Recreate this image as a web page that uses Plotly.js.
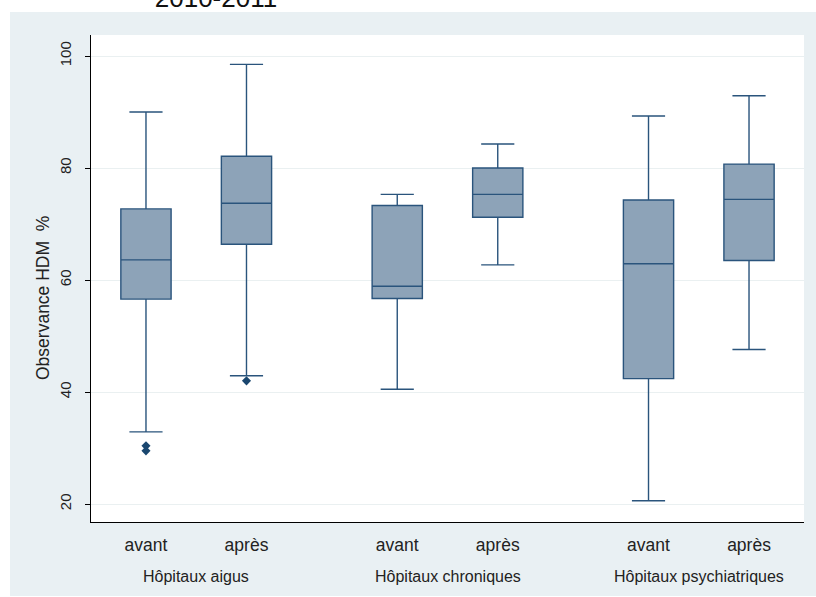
<!DOCTYPE html>
<html>
<head>
<meta charset="utf-8">
<script src="https://cdn.plot.ly/plotly-3.0.1.min.js"></script>
<style>html,body{margin:0;padding:0;background:#fff;}#chart{width:816px;height:597px;}</style>
</head>
<body>
<div id="chart"></div>
<script>
// ---- Data ----
var groups = ['Hôpitaux aigus', 'Hôpitaux chroniques', 'Hôpitaux psychiatriques'];
var periods = ['avant', 'après'];
// order: aigus avant, aigus après, chroniques avant, chroniques après, psy avant, psy après
var lowerWhisker = [32.9, 42.9, 40.5, 62.7, 20.6, 47.6];
var q1Values     = [56.6, 66.4, 56.7, 71.2, 42.4, 63.5];
var medianValues = [63.6, 73.7, 58.9, 75.3, 62.9, 74.4];
var q3Values     = [72.7, 82.1, 73.3, 80.0, 74.3, 80.7];
var upperWhisker = [90.0, 98.5, 75.3, 84.3, 89.3, 92.9];
// outliers: [box index, value]
var outlierBox   = [0, 0, 1];
var outlierValue = [30.4, 29.5, 42.0];
var yTicks = [20, 40, 60, 80, 100];
var yTitle = 'Observance HDM  %';
var chartTitle = '2010-2011';

// ---- Positions (groups separated by a gap) ----
var gap = 2.5;
var xPos = [], xText = [];
groups.forEach(function (g, gi) {
  periods.forEach(function (p, pi) {
    xPos.push(gi * gap + pi);
    xText.push(p);
  });
});
var groupCenters = groups.map(function (g, gi) { return gi * gap + 0.5; });

var navy = '#1a476f';
var boxTrace = {
  type: 'box',
  x: xPos,
  q1: q1Values,
  median: medianValues,
  q3: q3Values,
  lowerfence: lowerWhisker,
  upperfence: upperWhisker,
  width: 0.5,
  whiskerwidth: 0.66,
  fillcolor: '#8da3b8',
  line: {color: '#2a547c', width: 1.4},
  boxpoints: false,
  showlegend: false,
  hoverinfo: 'skip'
};
var outTrace = {
  type: 'scatter',
  mode: 'markers',
  x: outlierBox.map(function (i) { return xPos[i]; }),
  y: outlierValue,
  marker: {symbol: 'diamond', size: 7, color: navy},
  showlegend: false,
  hoverinfo: 'skip'
};

// ---- Layout ----
var L = 91, R = 804, T = 35, B = 522, W = 816, H = 597;
var pw = R - L, ph = B - T;
var fontFam = '"Liberation Sans", Arial, sans-serif';
var annotations = groups.map(function (g, gi) {
  return {
    text: g, x: groupCenters[gi], xref: 'x', y: -(576 - B) / ph, yref: 'paper',
    xanchor: 'center', yanchor: 'middle', showarrow: false,
    font: {family: fontFam, size: 16, color: '#222'}
  };
});
annotations.push({
  text: yTitle, textangle: -90,
  x: (43 - L) / pw, xref: 'paper', y: (B - 298) / ph, yref: 'paper',
  xanchor: 'center', yanchor: 'middle', showarrow: false,
  font: {family: fontFam, size: 17.5, color: '#222'}
});

var layout = {
  width: W, height: H,
  margin: {l: L, r: W - R, t: T, b: H - B, pad: 0},
  paper_bgcolor: '#ffffff',
  plot_bgcolor: '#ffffff',
  font: {family: fontFam, color: '#222'},
  title: {
    text: chartTitle, x: 216 / W, xref: 'container', xanchor: 'center',
    y: 1 - 7 / H, yref: 'container', yanchor: 'bottom',
    font: {family: fontFam, size: 26, color: '#111'}
  },
  shapes: [
    {type: 'rect', xref: 'paper', yref: 'paper', layer: 'below',
     x0: (10 - L) / pw, x1: (W - L) / pw, y0: -(596 - B) / ph, y1: 1 + (T - 12) / ph,
     fillcolor: '#e9f0f3', line: {width: 0}},
    {type: 'rect', xref: 'paper', yref: 'paper', layer: 'below',
     x0: 0, x1: 1, y0: 0, y1: 1, fillcolor: '#ffffff', line: {width: 0}}
  ],
  xaxis: {
    range: [-0.547, 6.547],
    tickvals: xPos, ticktext: xText,
    ticks: '', showgrid: false, zeroline: false,
    showline: true, linecolor: '#000', linewidth: 1,
    tickfont: {family: fontFam, size: 17.5, color: '#222'},
    ticklabelstandoff: 7,
    fixedrange: true
  },
  yaxis: {
    range: [16.8, 103.75],
    tickvals: yTicks,
    ticks: 'outside', ticklen: 5, tickcolor: '#000', tickwidth: 1,
    tickangle: -90,
    tickfont: {family: fontFam, size: 15, color: '#222'},
    ticklabelstandoff: 8,
    showgrid: true, gridcolor: '#eaf0f1', gridwidth: 1,
    zeroline: false,
    showline: true, linecolor: '#000', linewidth: 1,
    fixedrange: true
  },
  annotations: annotations
};

Plotly.newPlot('chart', [boxTrace, outTrace], layout, {displayModeBar: false, staticPlot: true});
</script>
</body>
</html>
